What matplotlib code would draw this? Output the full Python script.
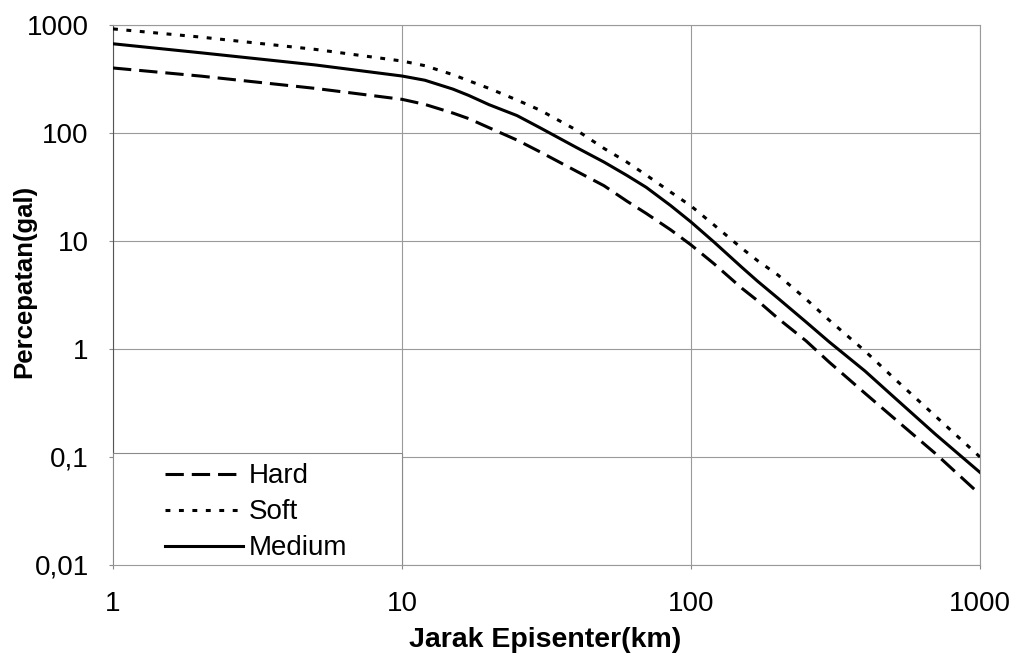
import matplotlib
matplotlib.use("Agg")
import matplotlib.pyplot as plt
from matplotlib.patches import Rectangle
from matplotlib.ticker import FixedLocator, FixedFormatter, NullLocator

# Epicentral distance (km)
jarak = [1, 2, 5, 10, 12, 15, 17, 20, 25, 30, 40, 50, 60, 70, 85, 100,
         120, 150, 170, 200, 250, 300, 400, 500, 700, 1000]

# Peak ground acceleration (gal) per soil class
hard = [400, 337, 259, 205, 184, 153, 136, 112, 86, 67, 44.5, 32.5, 23.4, 18.0, 12.7, 9.2,
        6.17, 3.65, 2.8, 1.92, 1.19, 0.76, 0.389, 0.233, 0.108, 0.045]
soft = [920, 774, 595, 464, 420, 347, 305, 259, 202, 163, 107, 72, 53.8, 40.8, 28.4, 21.1,
        14.1, 8.55, 6.57, 4.84, 2.9, 1.86, 0.957, 0.547, 0.24, 0.100]
medium = [670, 554, 427, 337, 308, 255, 223, 183, 145, 112, 73.8, 53.8, 40.5, 31.4, 21.3, 15.0,
          9.8, 5.7, 4.24, 2.95, 1.78, 1.17, 0.625, 0.365, 0.163, 0.072]

x_ticks = [1, 10, 100, 1000]
x_tick_labels = ["1", "10", "100", "1000"]
y_ticks = [0.01, 0.1, 1, 10, 100, 1000]
y_tick_labels = ["0,01", "0,1", "1", "10", "100", "1000"]

plt.rcParams["font.family"] = ["Liberation Sans", "DejaVu Sans"]

W, H = 1018, 659
fig = plt.figure(figsize=(W / 100, H / 100), dpi=100)
ax = fig.add_axes([113 / W, (H - 565) / H, 867 / W, 540 / H])

ax.set_xscale("log")
ax.set_yscale("log")
ax.set_xlim(1, 1000)
ax.set_ylim(0.01, 1000)

lh, = ax.plot(jarak, hard, color="black", lw=2.2, dashes=(6, 2.6), label="Hard", zorder=4)
ls, = ax.plot(jarak, soft, color="black", lw=2.2, dashes=(1.6, 2.8), label="Soft", zorder=4)
lm, = ax.plot(jarak, medium, color="black", lw=2.2, label="Medium", zorder=4)

ax.xaxis.set_major_locator(FixedLocator(x_ticks))
ax.xaxis.set_major_formatter(FixedFormatter(x_tick_labels))
ax.yaxis.set_major_locator(FixedLocator(y_ticks))
ax.yaxis.set_major_formatter(FixedFormatter(y_tick_labels))
ax.xaxis.set_minor_locator(NullLocator())
ax.yaxis.set_minor_locator(NullLocator())

ax.grid(True, which="major", color="#9a9a9a", lw=0.8, zorder=1)
ax.tick_params(axis="both", length=3, color="#8a8a8a", labelsize=20, colors="black")
ax.tick_params(axis="y", pad=14.5)
ax.tick_params(axis="x", pad=15.5)

for name, sp in ax.spines.items():
    sp.set_color("#9a9a9a")
    sp.set_linewidth(0.8)
ax.spines["left"].set_color("#555555")

# Legend box filling the lower-left grid cell
ax.add_patch(Rectangle((0, 0), 1 / 3, 0.207, transform=ax.transAxes,
                       facecolor="white", edgecolor="#8a8a8a", lw=0.8, zorder=3))
leg = ax.legend(handles=[lh, ls, lm], loc="upper left", bbox_to_anchor=(0.06, 0.188),
                frameon=False, fontsize=20, handlelength=2.8, handletextpad=0.22,
                labelspacing=0.36, borderpad=0, borderaxespad=0)
leg.set_zorder(5)

fig.text(545.6 / W, 1 - 640 / H, "Jarak Episenter(km)", ha="center", va="center",
         fontsize=20.5, fontweight="bold")
fig.text(24 / W, 1 - 281.5 / H, "Percepatan(gal)", ha="center", va="center",
         rotation=90, fontsize=18.5, fontweight="bold")

fig.savefig("out.png", dpi=100, facecolor="white")
